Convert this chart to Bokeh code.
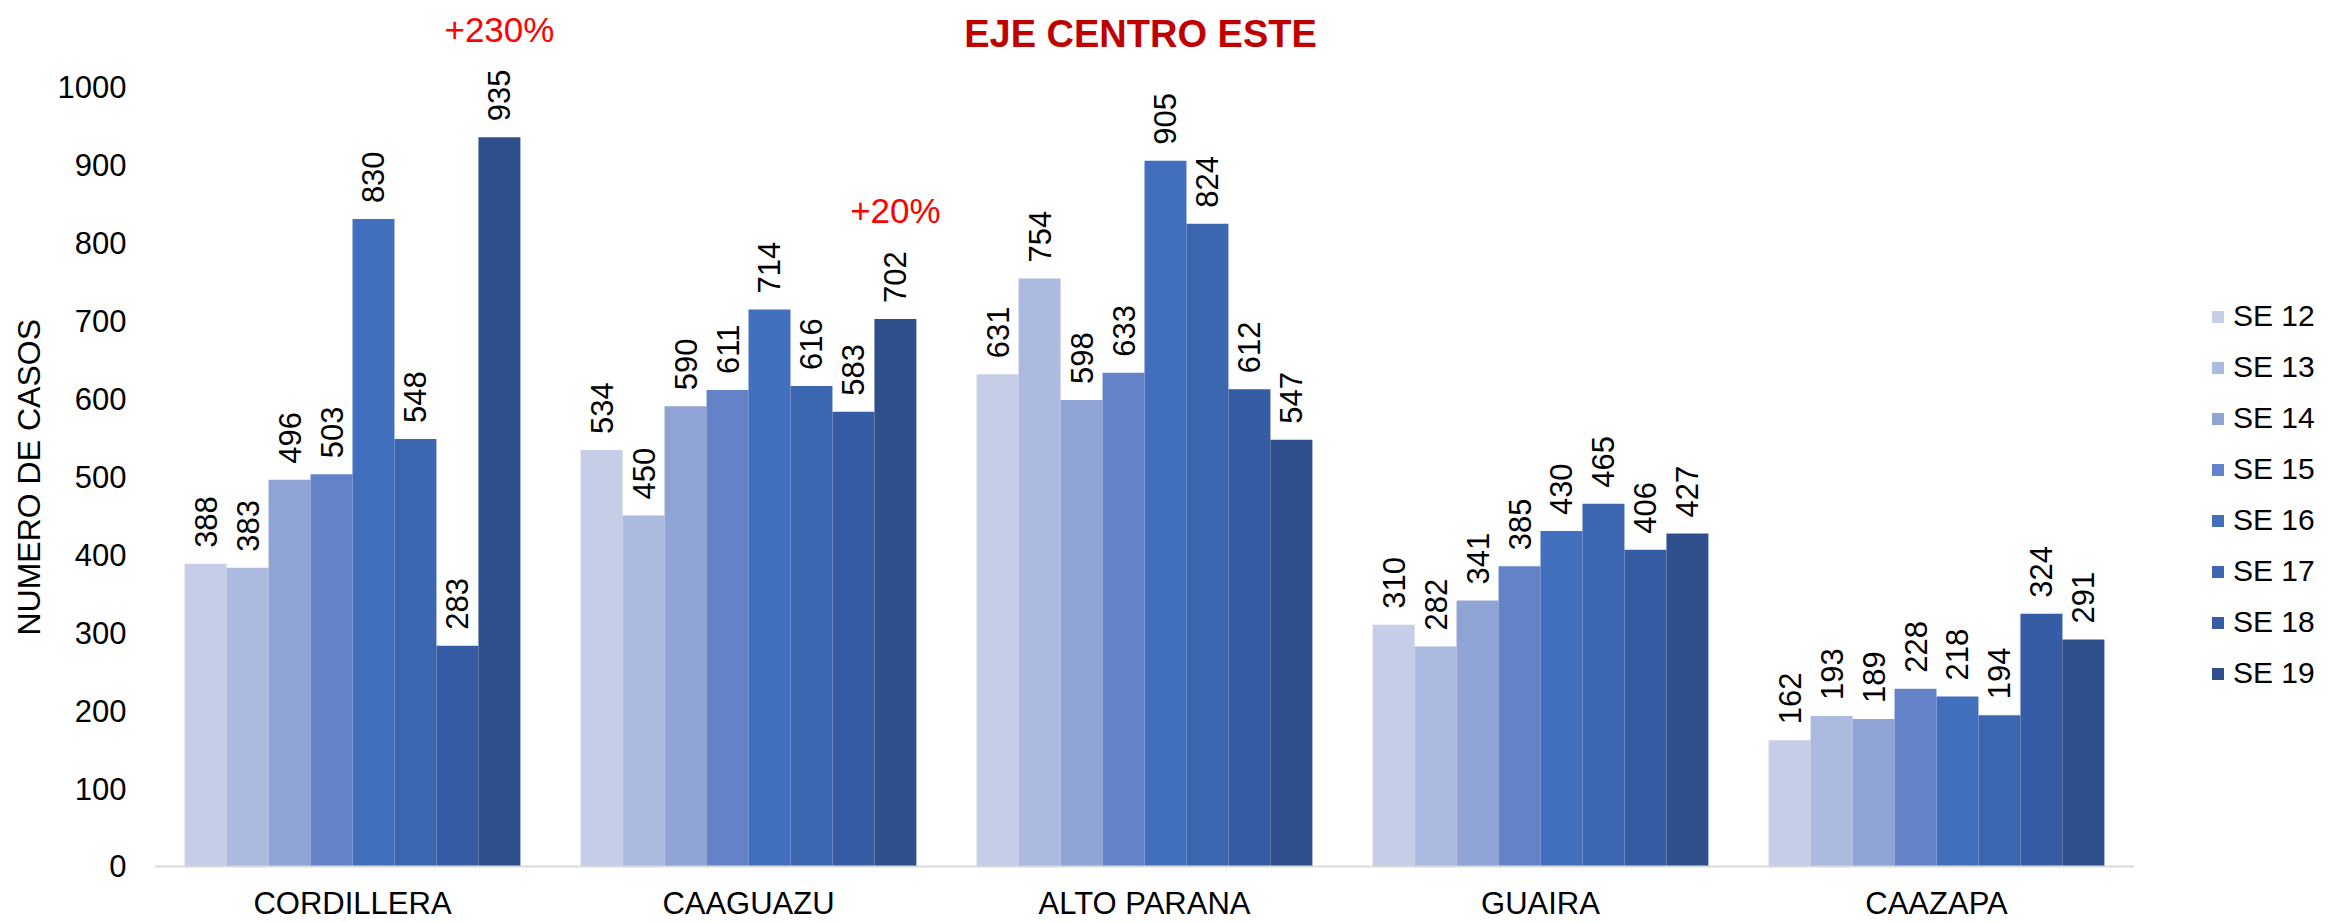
import math
from bokeh.plotting import figure
from bokeh.layouts import row
from bokeh.models import (ColumnDataSource, FactorRange, Range1d, FixedTicker, Legend, LegendItem,
                          Label, Title, Span)
from bokeh.transform import dodge
from bokeh.core.properties import value
from bokeh.embed import file_html
from bokeh.resources import INLINE

categories = ["CORDILLERA", "CAAGUAZU", "ALTO PARANA", "GUAIRA", "CAAZAPA"]
series_names = ["SE 12", "SE 13", "SE 14", "SE 15", "SE 16", "SE 17", "SE 18", "SE 19"]
se12 = [388, 534, 631, 310, 162]
se13 = [383, 450, 754, 282, 193]
se14 = [496, 590, 598, 341, 189]
se15 = [503, 611, 633, 385, 228]
se16 = [830, 714, 905, 430, 218]
se17 = [548, 616, 824, 465, 194]
se18 = [283, 583, 612, 406, 324]
se19 = [935, 702, 547, 427, 291]
series_values = [se12, se13, se14, se15, se16, se17, se18, se19]
colors = ["#c5cde7", "#adbadf", "#8fa3d5", "#6482c8", "#4270bf", "#3d66b1", "#355ca4", "#2e4f8c"]
y_ticks = [0, 100, 200, 300, 400, 500, 600, 700, 800, 900, 1000]
title_text = "EJE CENTRO ESTE"
y_title = "NUMERO DE CASOS"
note_categories = ["CORDILLERA", "CAAGUAZU"]
note_series = "SE 19"
note_texts = ["+230%", "+20%"]

FONT = "Liberation Sans"

data = {"cat": categories, "base": [0] * len(categories)}
for name, vals in zip(series_names, series_values):
    data[name] = vals
    data["lbl " + name] = [str(v) for v in vals]
source = ColumnDataSource(data)

p = figure(width=2134, height=922, x_range=FactorRange(*categories), y_range=Range1d(-71.8, 1110.3),
           output_backend="svg", toolbar_location=None, title=None,
           min_border_left=154, min_border_right=0, min_border_top=0, min_border_bottom=0)
p.outline_line_color = None
p.xgrid.grid_line_color = None
p.ygrid.grid_line_color = None
p.x_range.range_padding = 0
p.xaxis.visible = False

# category axis line at zero
p.add_layout(Span(location=0, dimension="width", line_color="#d9d9d9", line_width=2))

bar_w = 0.106
for i, name in enumerate(series_names):
    off = (i - 3.5) * bar_w
    p.vbar(x=dodge("cat", off, range=p.x_range), top=name, width=bar_w, source=source,
           fill_color=colors[i], line_color=None)
    p.text(x=dodge("cat", off, range=p.x_range), y=name, text="lbl " + name, source=source,
           angle=math.pi / 2, text_align="left", text_baseline="middle", y_offset=-16,
           text_font=value(FONT), text_font_size="31px", text_color="#000000")

# category labels under the zero line
p.text(x="cat", y="base", text="cat", source=source, text_align="center", text_baseline="middle",
       y_offset=37, text_font=value(FONT), text_font_size="31px", text_color="#000000")

note_idx = [categories.index(c) for c in note_categories]
note_vals = [series_values[series_names.index(note_series)][k] for k in note_idx]
note_src = ColumnDataSource(dict(cat=note_categories, y=note_vals, t=note_texts))
p.text(x=dodge("cat", (series_names.index(note_series) - 3.5) * bar_w, range=p.x_range), y="y", text="t",
       source=note_src, text_align="center", text_baseline="middle", y_offset=-108,
       text_font=value(FONT), text_font_size="35px", text_color="#ff0000")

ax = p.yaxis
ax.ticker = FixedTicker(ticks=y_ticks)
ax.major_tick_out = 0
ax.minor_tick_out = 0
ax.major_tick_in = 0
ax.minor_tick_in = 0
ax.major_tick_line_color = None
ax.minor_tick_line_color = None
ax.axis_line_color = None
ax.major_label_standoff = 28
ax.major_label_text_font = FONT
ax.major_label_text_font_size = "31px"
ax.major_label_text_color = "#000000"

p.add_layout(Title(text=y_title, align="left", offset=287, standoff=16, text_font=FONT,
                   text_font_size="32px", text_font_style="normal", text_color="#000000"), "left")
p.add_layout(Label(x=986, y=889, x_units="screen", y_units="screen", text=title_text,
                   text_align="center", text_baseline="middle", text_font=FONT,
                   text_font_style="bold", text_font_size="38px", text_color="#c00000"))

# legend panel
lg = figure(width=214, height=922, x_range=FactorRange(*categories), y_range=Range1d(0, 1110.3),
            output_backend="svg", toolbar_location=None, title=None,
            x_axis_location=None, y_axis_location=None,
            min_border_left=0, min_border_right=0, min_border_top=0, min_border_bottom=0)
lg.outline_line_color = None
lg.xgrid.grid_line_color = None
lg.ygrid.grid_line_color = None
items = []
for i, name in enumerate(series_names):
    off = (i - 3.5) * bar_w
    r = lg.vbar(x=dodge("cat", off, range=lg.x_range), top=name, width=bar_w, source=source,
                fill_color=colors[i], line_color=None, visible=False)
    items.append(LegendItem(label=name, renderers=[r]))
legend = Legend(items=items, location=(76, 232), orientation="vertical",
                glyph_width=15, glyph_height=15, label_height=34, spacing=17, padding=0, margin=0,
                label_standoff=8, label_text_font=FONT, label_text_font_size="30px",
                label_text_color="#000000", border_line_color=None, background_fill_alpha=0,
                inactive_fill_alpha=0)
lg.add_layout(legend, "center")

layout = row(p, lg, spacing=0)
open("out.html", "w").write(file_html(layout, INLINE))
